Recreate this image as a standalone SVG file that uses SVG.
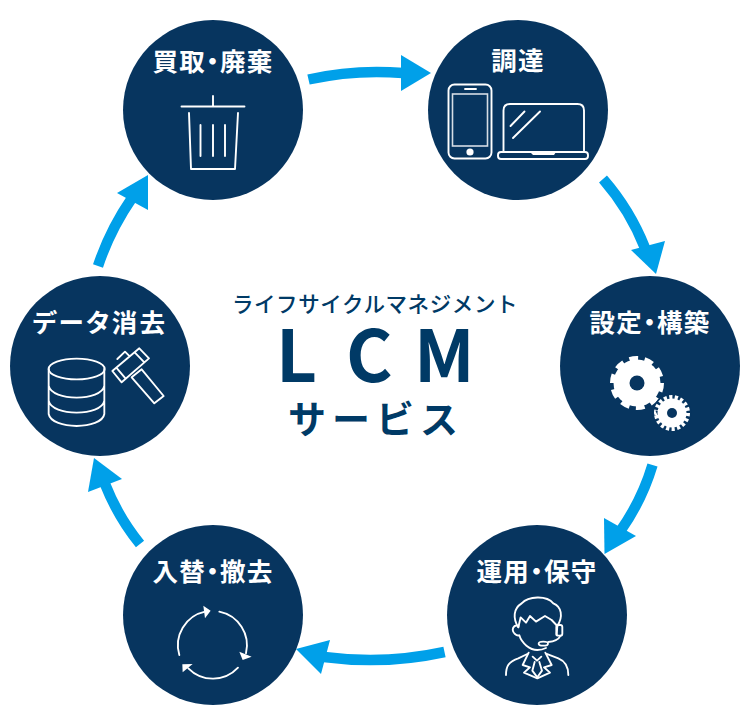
<svg xmlns="http://www.w3.org/2000/svg" width="750" height="715" viewBox="0 0 750 715">
<style>
.disc{fill:#07355f}
.lbl{font-family:"Noto Sans CJK JP","Noto Sans",sans-serif;font-weight:700;font-size:25.5px;fill:#fff;text-anchor:middle;font-feature-settings:"palt";letter-spacing:1.2px}
.ic{fill:none;stroke:#fff;stroke-width:1.9;stroke-linejoin:round;stroke-linecap:round}
.icz{fill:none;stroke:#fff;stroke-width:5.6;stroke-linejoin:round;stroke-linecap:round}
.sh{fill:none;stroke:#00a0e9;stroke-width:10.5}
.hd{fill:#00a0e9}
.ctr{font-family:"Noto Sans CJK JP","Noto Sans",sans-serif;fill:#003a66;text-anchor:middle}
</style>
<g id="connectors">
<path class="sh" d="M308.500 79.500Q355 69 403 73"/><polygon class="hd" points="401,55 431,73 401,91"/>
<path class="sh" d="M603 179Q630 210 645 248"/><polygon class="hd" points="631,250 665,241 656,274"/>
<path class="sh" d="M652.500 465Q642 500 621 530"/><polygon class="hd" points="604,518 636,536 604.500,554"/>
<path class="sh" d="M444.500 652Q385 665 324 657"/><polygon class="hd" points="330,640 321,674 296,649"/>
<path class="sh" d="M140 544Q118 517 105 484"/><polygon class="hd" points="94,458 88,492 122,479"/>
<path class="sh" d="M98 266Q110 230 132 198"/><polygon class="hd" points="117,193 148,175 148,210"/>
</g>
<g id="node-buy">
<circle class="disc" cx="213" cy="110" r="90"/>
<text class="lbl" x="213" y="71">買取・廃棄</text>
<path class="ic" d="M181.500 106.500H244.500M213 96V106.500M189 113L191 169H235L238 113M200.500 125V156M213 125V156M225 125V156"/>
</g>
<g id="node-procure">
<circle class="disc" cx="518" cy="110" r="90"/>
<text class="lbl" x="518" y="70">調達</text>
<rect class="ic" x="448.500" y="84.500" width="43" height="74" rx="6"/>
<rect x="452.500" y="94" width="35" height="52" fill="none" stroke="#d5dde5" stroke-width="1.600"/>
<path class="ic" d="M465 89H476"/>
<circle cx="470" cy="152" r="3.600" fill="#fff"/>
<path class="ic" d="M503.500 152V110.500Q503.500 104 510 104H577.500Q584 104 584 110.500V152"/>
<rect class="ic" x="498" y="152" width="90" height="7" rx="3"/>
<path d="M530 152H556L554 155H533Z" fill="#fff"/>
<path class="ic" d="M510.500 126L524.500 111.500M513 138L540 111.500"/>
</g>
<g id="node-config">
<circle class="disc" cx="650" cy="366" r="90"/>
<text class="lbl" x="650" y="332">設定・構築</text>
<circle cx="637" cy="383" r="23.500" fill="#fff"/>
<circle cx="637" cy="383" r="24.500" fill="none" stroke="#fff" stroke-width="5" pathLength="40" stroke-dasharray="2.300 1.700"/>
<circle cx="637" cy="383" r="7.500" class="disc"/>
<circle cx="672" cy="413" r="19.500" class="disc"/>
<circle cx="672" cy="413" r="14.500" fill="#fff"/>
<circle cx="672" cy="413" r="15.500" fill="none" stroke="#fff" stroke-width="5" pathLength="36" stroke-dasharray="1.150 .850"/>
<circle cx="672" cy="413" r="5" class="disc"/>
</g>
<g id="node-operate">
<circle class="disc" cx="537" cy="615" r="90"/>
<text class="lbl" x="537" y="581">運用・保守</text>
<g transform="translate(450 540) scale(.3333)">
<path class="icz" d="M205 262C188 235 190 205 215 190C235 168 290 165 310 190C335 200 340 230 322 258"/>
<path class="icz" d="M205 262L212 232L228 248L240 228L258 245L285 228L305 240L322 258"/>
<path class="icz" d="M206 258C190 252 182 270 195 282C200 287 205 287 208 286C215 310 240 330 262 330C272 330 280 328 288 324M322 258L320 285"/>
<rect class="icz" x="319" y="255" width="18" height="32" rx="6"/>
<path class="icz" d="M332 287C325 300 310 305 295 306"/>
<ellipse class="icz" cx="280" cy="311" rx="14" ry="6"/>
<path class="icz" d="M168 405C168 380 175 365 205 355L232 342M290 342L325 355C350 365 355 385 355 405"/>
<path class="icz" d="M236 338L218 375L240 382L222 398L262 415L300 398L282 382L305 375L286 338"/>
<path class="icz" d="M248 350L261 362L274 350M254 366L247 392L262 412L276 392L268 366"/>
</g>
</g>
<g id="node-replace">
<circle class="disc" cx="213" cy="615" r="90"/>
<text class="lbl" x="213" y="581">入替・撤去</text>
<g transform="translate(120 540) scale(.3333)">
<path class="icz" d="M178 345A103 103 0 0 1 255 215M298 215A103 103 0 0 1 378 340M354 383A103 103 0 0 1 205 385"/>
<path fill="#fff" d="M250 197L272 212L255 235ZM395 350L368 360L358 335ZM187 373L218 372L188 397Z"/>
</g>
</g>
<g id="node-erase">
<circle class="disc" cx="100" cy="366" r="90"/>
<text class="lbl" x="100" y="332" style="letter-spacing:2.400px">データ消去</text>
<g transform="translate(10 290) scale(.3333)">
<ellipse class="icz" cx="200" cy="237" rx="84" ry="31"/>
<path class="icz" d="M116 237V372C125 420 275 420 283 372V237M116 287C125 335 275 335 283 287M116 332C125 380 275 380 283 332"/>
<path class="icz" d="M307 243L388 175L417 205L335 277ZM319 233L347 266M374 187L403 217M322 207L345 185L357 197M365 262L395 238L461 318L433 340Z"/>
</g>
</g>
<g id="title">
<text class="ctr" x="375" y="312" font-size="21.500" font-weight="500" letter-spacing=".6">ライフサイクルマネジメント</text>
<text class="ctr" y="382" font-size="71" font-weight="700" style="text-anchor:start"><tspan x="276">L</tspan><tspan x="346">C</tspan><tspan x="414">M</tspan></text>
<text class="ctr" x="376" y="433" font-size="38" font-weight="700" letter-spacing="6">サービス</text>
</g>
</svg>
